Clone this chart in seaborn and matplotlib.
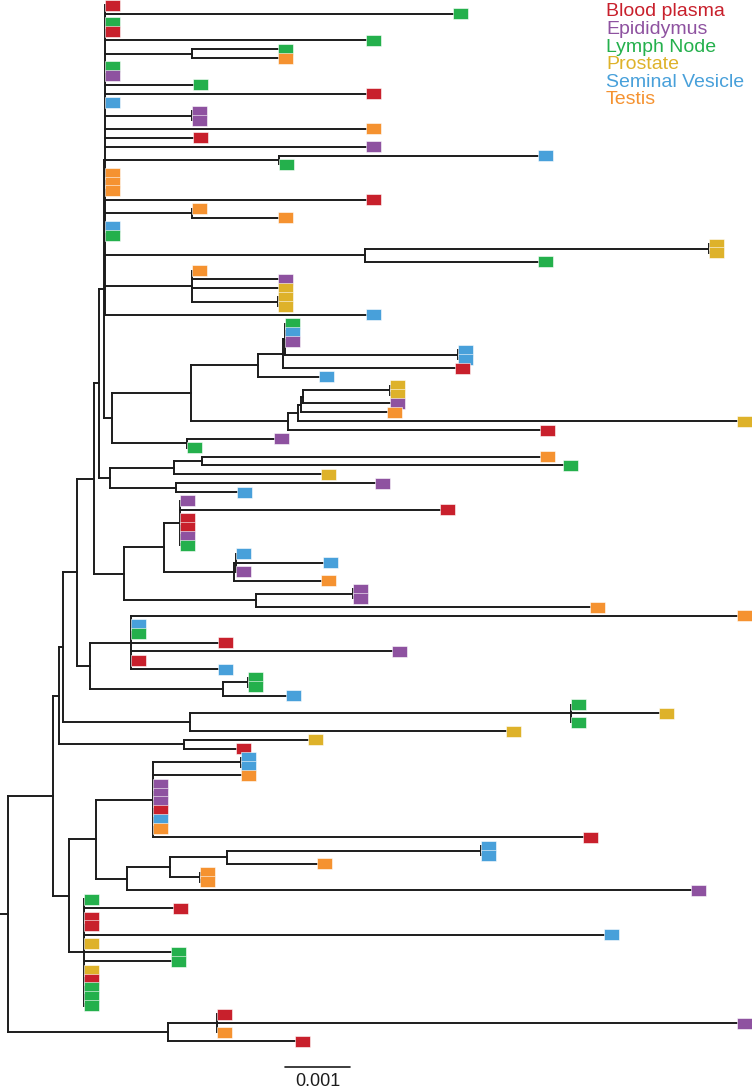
import matplotlib
matplotlib.use("Agg")
import matplotlib.pyplot as plt
import seaborn as sns
import pandas as pd
import numpy as np
from matplotlib.path import Path
from matplotlib.markers import MarkerStyle
from matplotlib.collections import LineCollection

sns.set_style("white")
plt.rcParams["font.family"] = ["Liberation Sans", "DejaVu Sans"]

# ------------------------------------------------------
# Data
# ------------------------------------------------------

tissue_codes = ["BP", "EP", "LN", "PR", "SV", "TE"]
tissues = ["Blood plasma", "Epididymus", "Lymph Node", "Prostate", "Seminal Vesicle", "Testis"]
tissue_colors = ["#c8202c", "#8e52a0", "#24b04c", "#deb22a", "#48a0da", "#f59230"]

# internal nodes: id, parent, depth from root (units of 0.001 subst./site)
node_id = ["root", "n1", "vk", "vl", "n2", "vb", "L", "Qp", "M", "Q",
           "Q1", "J", "N", "N1", "N2", "N2c", "I", "O", "O1", "O1a",
           "O1b", "O1b1", "O2", "O2a", "H", "R", "R1", "R1a", "R2", "P",
           "K", "A", "B", "C", "D", "E", "F", "G", "Gc", "S",
           "T", "U", "W", "X", "Y", "V", "Z", "Z2", "Z3", "Z3c",
           "Vc", "Vd", "Ve", "Vec", "Vg", "Vh", "Vi", "Vic", "Vj"]
node_parent = [None, "root", "root", "vk", "n1", "n1", "n2", "n2", "L", "L",
               "Q", "M", "M", "N", "N", "N2", "J", "J", "O", "O1",
               "O1", "O1b", "O", "O2", "I", "I", "R", "R1", "R", "H",
               "H", "P", "P", "P", "P", "P", "E", "P", "G", "K",
               "K", "S", "U", "W", "X", "S", "V", "Z", "Z2", "Z3",
               "vb", "vb", "Vc", "Ve", "Vc", "Vg", "Vh", "Vi", "Vh"]
node_depth = [0.00, 0.69, 2.46, 3.22, 0.78, 0.94, 0.85, 2.71, 1.06, 2.80,
              8.66, 1.32, 1.26, 1.89, 3.31, 3.69, 1.40, 1.78, 2.40, 2.65,
              3.48, 3.51, 3.82, 5.31, 1.48, 1.57, 2.55, 2.98, 2.58, 1.49,
              1.60, 2.83, 2.83, 4.17, 2.83, 5.49, 10.78, 2.83, 4.15, 2.82,
              2.75, 3.85, 4.23, 4.26, 6.92, 4.31, 4.46, 4.51, 4.54, 5.88,
              1.35, 1.17, 2.23, 3.58, 1.83, 2.49, 3.37, 7.28, 2.95]

# tips, top to bottom
tip_parent = [
    "P", "P", "P", "P", "P", "A", "A", "P", "P", "P",
    "P", "P", "B", "B", "P", "P", "P", "C", "C", "P",
    "P", "P", "P", "D", "D", "P", "P", "F", "F", "E",
    "G", "G", "G", "Gc", "Gc", "P",
    "X", "X", "X", "Y", "Y", "W", "U", "Z3c", "Z3c", "Z3", "Z2", "Z", "V", "T", "T",
    "R1a", "R1a", "R1", "R2", "R2",
    "O1a", "O1a", "O1a", "O1a", "O1a", "O1a", "O1b1", "O1b1", "O1b1", "O1b", "O2a", "O2a", "O2",
    "N1", "N1", "N1", "N1", "N1", "N1", "N1", "N2c", "N2c", "N2",
    "Q1", "Q1", "Q1", "Q", "Qp", "Qp",
    "Vec", "Vec", "Ve", "Ve", "Ve", "Ve", "Ve", "Ve", "Ve", "Ve", "Vic", "Vic", "Vi", "Vj", "Vj", "Vg",
    "Vd", "Vd", "Vd", "Vd", "Vd", "Vd", "Vd", "Vd", "Vd", "Vd", "Vd", "Vd", "Vd",
    "vl", "vl", "vl", "vk",
]
tip_depth = [
    1.49, 6.85, 1.49, 1.49, 5.51, 4.15, 4.15, 1.49, 1.49, 2.85,
    5.51, 1.49, 2.83, 2.83, 5.51, 2.85, 5.51, 8.15, 4.17, 1.49,
    1.49, 1.49, 5.51, 2.83, 4.15, 1.49, 1.49, 10.78, 10.78, 8.15,
    2.83, 4.15, 4.15, 4.15, 4.15, 5.51,
    4.26, 4.26, 4.26, 6.92, 6.92, 6.88, 4.78, 5.88, 5.88, 5.88, 5.83, 11.22, 8.18, 4.09, 2.75,
    8.18, 8.54, 4.82, 5.65, 3.52,
    2.65, 6.65, 2.65, 2.65, 2.65, 2.65, 3.51, 4.85, 3.51, 4.82, 5.31, 5.31, 8.95,
    11.22, 1.89, 1.89, 3.23, 5.91, 1.89, 3.23, 3.69, 3.69, 4.28,
    8.66, 10.02, 8.66, 7.66, 4.62, 3.51,
    3.58, 3.58, 3.58, 2.23, 2.23, 2.23, 2.23, 2.23, 2.23, 8.85, 7.28, 7.28, 4.75, 2.95, 2.95, 10.51,
    1.17, 2.54, 1.17, 1.17, 9.17, 1.17, 2.51, 2.51, 1.17, 1.17, 1.17, 1.17, 1.17,
    3.22, 11.22, 3.22, 4.42,
]
tip_tissue = [
    "BP", "LN", "LN", "BP", "LN", "LN", "TE", "LN", "EP", "LN",
    "BP", "SV", "EP", "EP", "TE", "BP", "EP", "SV", "LN", "TE",
    "TE", "TE", "BP", "TE", "TE", "SV", "LN", "PR", "PR", "LN",
    "TE", "EP", "PR", "PR", "PR", "SV",
    "LN", "SV", "EP", "SV", "SV", "BP", "SV", "PR", "PR", "EP", "TE", "PR", "BP", "EP", "LN",
    "TE", "LN", "PR", "EP", "SV",
    "EP", "BP", "BP", "BP", "EP", "LN", "SV", "SV", "EP", "TE", "EP", "EP", "TE",
    "TE", "SV", "LN", "BP", "EP", "BP", "SV", "LN", "LN", "SV",
    "LN", "PR", "LN", "PR", "PR", "BP",
    "SV", "SV", "TE", "EP", "EP", "EP", "BP", "SV", "TE", "BP", "SV", "SV", "TE", "TE", "TE", "EP",
    "LN", "BP", "BP", "BP", "SV", "PR", "LN", "LN", "PR", "BP", "LN", "LN", "LN",
    "BP", "EP", "TE", "BP",
]

# ------------------------------------------------------
# Layout
# ------------------------------------------------------

tips = pd.DataFrame({"parent": tip_parent, "depth": tip_depth, "code": tip_tissue})
tips["y"] = np.arange(len(tips), dtype=float)
tips["tissue"] = tips["code"].map(dict(zip(tissue_codes, tissues)))

depth = dict(zip(node_id, node_depth))
children = {n: [] for n in node_id}
for i, p in enumerate(tip_parent):
    children[p].append(("tip", i))
for n, p in zip(node_id, node_parent):
    if p is not None:
        children[p].append(("node", n))

ypos = {}


def node_y(n):
    if n not in ypos:
        ys = [tips.at[c, "y"] if kind == "tip" else node_y(c) for kind, c in children[n]]
        ypos[n] = (min(ys) + max(ys)) / 2
    return ypos[n]


for n in node_id:
    node_y(n)

segments = []
# horizontal branches to tips
for i, row in tips.iterrows():
    x0 = depth[row["parent"]]
    if row["depth"] > x0:
        segments.append([(x0, row["y"]), (row["depth"], row["y"])])
# horizontal branches to internal nodes and vertical connectors
for n, p in zip(node_id, node_parent):
    x0 = depth[p] if p is not None else -0.12
    segments.append([(x0, ypos[n]), (depth[n], ypos[n])])
    ys = [tips.at[c, "y"] if kind == "tip" else ypos[c] for kind, c in children[n]]
    segments.append([(depth[n], min(ys)), (depth[n], max(ys))])

# ------------------------------------------------------
# Plot
# ------------------------------------------------------

fig = plt.figure(figsize=(7.52, 10.89), dpi=100)
ax = fig.add_axes([0, 0, 1, 1])

ax.add_collection(LineCollection(segments, colors="#1c1c1c", linewidths=1.4,
                                 capstyle="projecting", zorder=1))

box = Path([(0, -5.5), (15, -5.5), (15, 5.5), (0, 5.5), (0, -5.5)],
           [Path.MOVETO, Path.LINETO, Path.LINETO, Path.LINETO, Path.CLOSEPOLY])
sns.scatterplot(
    data=tips, x="depth", y="y", hue="tissue",
    palette=dict(zip(tissues, tissue_colors)),
    marker=MarkerStyle(box), s=467, linewidth=0.4, edgecolor="white",
    legend=False, ax=ax, zorder=3,
)

# scale bar
ax.plot([4.26, 5.26], [119.9, 119.9], color="#1c1c1c", lw=1.2)
ax.text(4.76, 121.6, "0.001", ha="center", va="center", fontsize=13, color="#1c1c1c")

ax.set_xlim(-8 / 65, 744 / 65)
ax.set_ylim(122.42, -0.565)
ax.axis("off")

# tissue key
for k, (name, col) in enumerate(zip(tissues, tissue_colors)):
    fig.text(606 / 752, 1 - (12 + 17.6 * k) / 1089, name, color=col,
             fontsize=14, ha="left", va="center")

fig.savefig("out.png", dpi=100)
